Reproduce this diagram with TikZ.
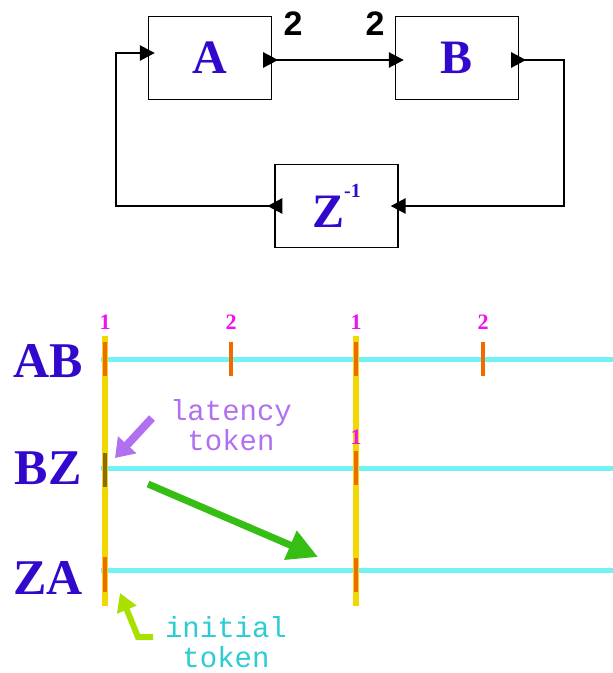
\documentclass[tikz,border=0pt]{standalone}
\usepackage{fontspec}
\setmainfont{Liberation Serif}
\setmonofont{Liberation Mono}
\newfontfamily\ratefont{Liberation Sans}
\usetikzlibrary{arrows.meta}
\definecolor{blockc}{HTML}{3208CC}
\definecolor{edgec}{HTML}{72F2F2}
\definecolor{periodc}{HTML}{F0D800}
\definecolor{firec}{HTML}{F06A00}
\definecolor{latc}{HTML}{8A6A12}
\definecolor{phasec}{HTML}{F010F0}
\definecolor{lavc}{HTML}{B070F0}
\definecolor{initc}{HTML}{2CCCD4}
\definecolor{flowc}{HTML}{36BE14}
\definecolor{limec}{HTML}{A8E000}
\tikzset{
  block/.style={draw, line width=1.3pt, minimum width=123pt, minimum height=83pt, inner sep=0pt, text=blockc, font=\fontsize{48}{48}\selectfont\bfseries},
  wire/.style={line width=2.6pt, {Triangle[reversed,length=15pt,width=15pt]}-{Triangle[length=15pt,width=15pt]}},
  inwire/.style={line width=2.6pt, -{Triangle[length=15pt,width=15pt]}},
  rate/.style={font=\ratefont\fontsize{34}{34}\selectfont\bfseries},
  chan/.style={text=blockc, font=\fontsize{50}{50}\selectfont\bfseries},
  edge/.style={draw=edgec, line width=5pt},
  period/.style={draw=periodc, line width=6.5pt},
  fire/.style={draw=firec, line width=3.5pt},
  late/.style={draw=latc, line width=4pt},
  phase/.style={text=phasec, font=\fontsize{22}{22}\selectfont\bfseries},
  note/.style={align=center, font=\ttfamily\fontsize{29}{30.5}\selectfont},
}

\begin{document}
\begin{tikzpicture}[x=1pt,y=-1pt]
\useasboundingbox (0,0) rectangle (613,673);
\node[block] (A) at (210,58) {A};
\node[block] (B) at (457,58) {B};
\node[block] (Z) at (336.5,206) {Z\raisebox{30pt}{\fontsize{20}{20}\selectfont -1}};
\node[rate] (ra) at (293,24) {2};
\node[rate] (rb) at (375,24) {2};
\coordinate (fb) at (116,53);
\coordinate (rc) at (564,206);
\draw[wire] ([xshift=-9pt,yshift=-2pt]A.east) -- ([xshift=9pt,yshift=-2pt]B.west);
\draw[wire] ([xshift=-8pt,yshift=-2pt]B.east) -| (rc) -- ([xshift=-8pt]Z.east);
\draw[wire] ([xshift=8pt]Z.west) -| (fb) -- ([xshift=7pt,yshift=5pt]A.west);

\node[chan] (ab) at (48,361) {AB};
\node[chan] (bz) at (48,468) {BZ};
\node[chan] (za) at (48,578) {ZA};
\draw[edge] (101,359) -- (613,359);
\draw[edge] (101,468) -- (613,468);
\draw[edge] (101,570) -- (613,570);
\draw[period] (105,336) -- (105,606);
\draw[period] (356,336) -- (356,606);
\draw[fire] (105,342) -- (105,376);
\draw[fire] (231,342) -- (231,376);
\draw[fire] (356,342) -- (356,376);
\draw[fire] (483,342) -- (483,376);
\draw[late] (105,453) -- (105,487);
\draw[fire] (356,451) -- (356,485);
\draw[fire] (105,557) -- (105,592);
\draw[fire] (356,558) -- (356,592);
\node[phase] (t1) at (105,322) {1};
\node[phase] (t2) at (231,322) {2};
\node[phase] (t3) at (356,322) {1};
\node[phase] (t4) at (483,322) {2};
\node[phase] (t5) at (356,437) {1};

\node[note, text=lavc] (lat) at (231,425) {latency\\token};
\node[note, text=initc] (ini) at (226,642) {initial\\token};
\coordinate (latfrom) at (152,418);
\coordinate (latto) at (115,458);
\coordinate (flowfrom) at (148,484);
\coordinate (flowto) at (318,557);
\coordinate (inifrom) at (153,637);
\coordinate (inibend) at (138,637);
\coordinate (inito) at (120,593);
\draw[draw=lavc, line width=8pt, -{Triangle[length=18pt,width=24pt]}] (latfrom) -- (latto);
\draw[draw=flowc, line width=7pt, -{Triangle[length=30pt,width=30pt]}] (flowfrom) -- (flowto);
\draw[draw=limec, line width=6pt, line join=miter, -{Triangle[length=18pt,width=20pt]}] (inifrom) -- (inibend) -- (inito);
\end{tikzpicture}
\end{document}
